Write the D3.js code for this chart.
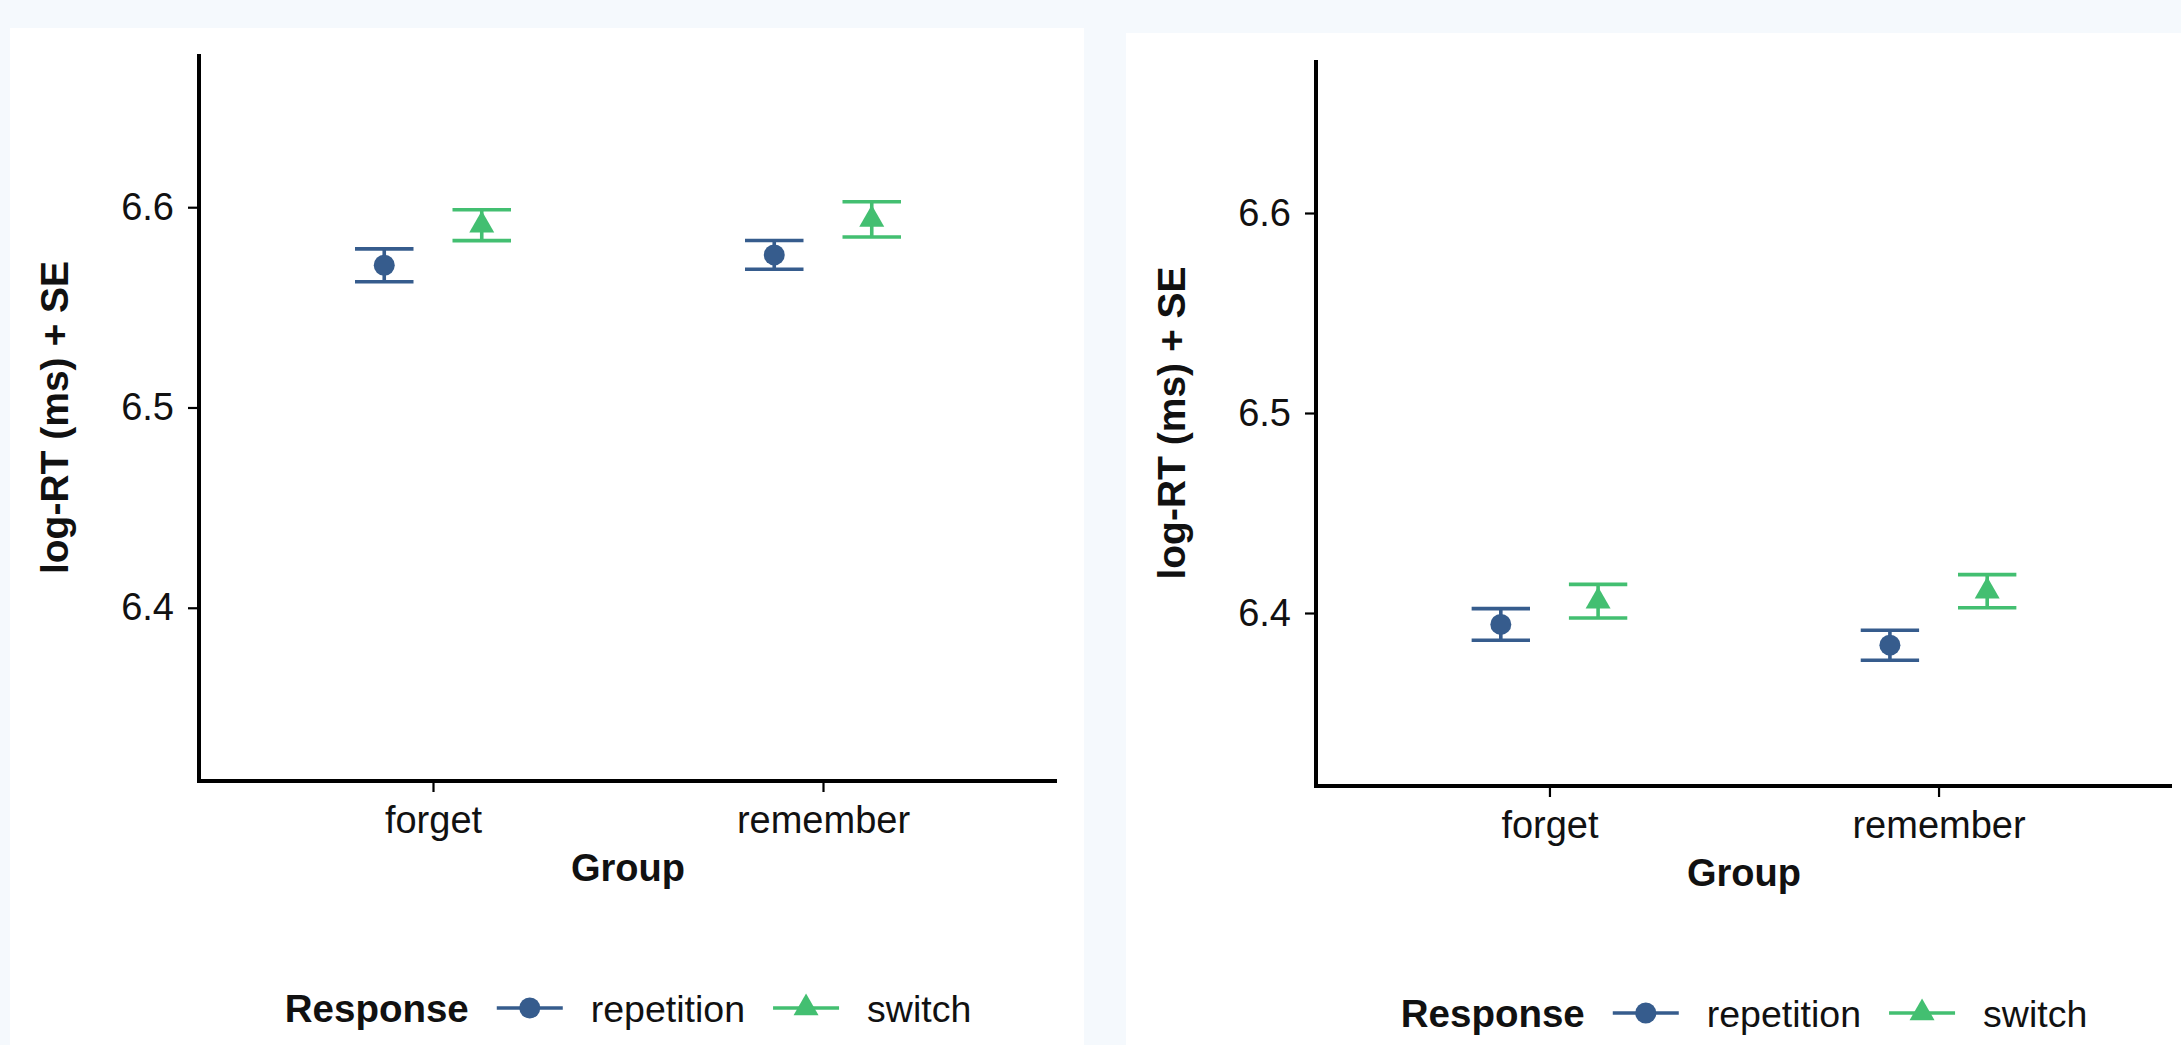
<!DOCTYPE html>
<html>
<head>
<meta charset="utf-8">
<script src="https://cdn.jsdelivr.net/npm/d3@7"></script>
<style>
  html, body { margin: 0; padding: 0; background: #f5f9fd; }
  svg { display: block; }
  text { font-family: "Liberation Sans", Arial, Helvetica, sans-serif; fill: #111; }
</style>
</head>
<body>
<svg id="chart" width="2181" height="1045"></svg>
<script>
// Groups on the x axis and response types (series)
const groups = ["forget", "remember"];
const responses = ["repetition", "switch"];
const yTicks = [6.4, 6.5, 6.6];
const yLimits = [6.33, 6.66];

// Panel 1: mean log-RT and standard error per group
const panel1Repetition = [6.5710, 6.5762];
const panel1RepetitionSE = [0.0082, 0.0072];
const panel1Switch = [6.5910, 6.5939];
const panel1SwitchSE = [0.0077, 0.0088];

// Panel 2: mean log-RT and standard error per group
const panel2Repetition = [6.3943, 6.3839];
const panel2RepetitionSE = [0.0079, 0.0075];
const panel2Switch = [6.4059, 6.4109];
const panel2SwitchSE = [0.0084, 0.0083];

const colors = { repetition: "#365c8d", switch: "#43bf71" };

function rows(rep, repSE, sw, swSE) {
  const out = [];
  groups.forEach((g, i) => {
    out.push({ group: g, response: "repetition", mean: rep[i], se: repSE[i] });
    out.push({ group: g, response: "switch", mean: sw[i], se: swSE[i] });
  });
  return out;
}

const panels = [
  { card: [10, 28, 1074, 1017], plot: { x0: 199, x1: 1057, y0: 54, y1: 781 },
    data: rows(panel1Repetition, panel1RepetitionSE, panel1Switch, panel1SwitchSE) },
  { card: [1126, 33, 1055, 1012], plot: { x0: 1316, x1: 2172, y0: 60, y1: 786 },
    data: rows(panel2Repetition, panel2RepetitionSE, panel2Switch, panel2SwitchSE) }
];

const svg = d3.select("#chart");

function symbolFor(r) {
  return r === "repetition"
    ? d3.symbol().type(d3.symbolCircle).size(Math.PI * 10.5 * 10.5)
    : d3.symbol().type(d3.symbolTriangle).size(270);
}

panels.forEach(p => {
  const [cx, cy, cw, ch] = p.card;
  svg.append("rect").attr("x", cx).attr("y", cy).attr("width", cw).attr("height", ch).attr("fill", "#ffffff");

  const { x0, x1, y0, y1 } = p.plot;
  const span = yLimits[1] - yLimits[0];
  const y = d3.scaleLinear()
    .domain([yLimits[0] - 0.05 * span, yLimits[1] + 0.05 * span])
    .range([y1, y0]);
  const x = d3.scalePoint().domain(groups).range([x0, x1]).padding(0.6);
  const step = x.step();
  const dodge = d3.scalePoint().domain(responses).range([-0.125 * step, 0.125 * step]);
  const capHalf = 0.075 * step;

  const g = svg.append("g");

  // Axes
  const yAxis = g.append("g").attr("transform", `translate(${x0},0)`)
    .call(d3.axisLeft(y).tickValues(yTicks).tickFormat(d3.format(".1f")).tickSize(11).tickSizeOuter(0).tickPadding(14));
  const xAxis = g.append("g").attr("transform", `translate(0,${y1})`)
    .call(d3.axisBottom(x).tickSize(11).tickSizeOuter(0).tickPadding(14));
  [yAxis, xAxis].forEach(a => {
    a.select(".domain").attr("stroke", "#000").attr("stroke-width", 4);
    a.selectAll(".tick line").attr("stroke", "#000").attr("stroke-width", 2.2);
    a.selectAll(".tick text").attr("font-size", 38).attr("fill", "#111")
      .style("font-family", '"Liberation Sans", Arial, sans-serif');
  });
  xAxis.select(".domain").attr("d", `M${x0 - 2},0H${x1}`);
  yAxis.select(".domain").attr("d", `M0,${y0}V${y1 + 2}`);

  // Axis titles
  g.append("text")
    .attr("x", (x0 + x1) / 2).attr("y", y1 + 100)
    .attr("text-anchor", "middle").attr("font-size", 38).attr("font-weight", "bold")
    .text("Group");
  g.append("text")
    .attr("transform", `translate(${x0 - 131},${(y0 + y1) / 2}) rotate(-90)`)
    .attr("text-anchor", "middle").attr("font-size", 39).attr("font-weight", "bold")
    .text("log-RT (ms) + SE");

  // Error bars
  const eb = g.append("g").selectAll("g").data(p.data).join("g")
    .attr("stroke", d => colors[d.response]).attr("stroke-width", 3.6).attr("fill", "none");
  const px = d => x(d.group) + dodge(d.response);
  eb.append("line")
    .attr("x1", px).attr("x2", px)
    .attr("y1", d => y(d.mean + d.se)).attr("y2", d => y(d.mean - d.se));
  eb.append("line")
    .attr("x1", d => px(d) - capHalf).attr("x2", d => px(d) + capHalf)
    .attr("y1", d => y(d.mean + d.se)).attr("y2", d => y(d.mean + d.se));
  eb.append("line")
    .attr("x1", d => px(d) - capHalf).attr("x2", d => px(d) + capHalf)
    .attr("y1", d => y(d.mean - d.se)).attr("y2", d => y(d.mean - d.se));

  // Points
  g.append("g").selectAll("path").data(p.data).join("path")
    .attr("transform", d => `translate(${px(d)},${y(d.mean)})`)
    .attr("d", d => symbolFor(d.response)())
    .attr("fill", d => colors[d.response]);

  // Legend
  const leg = g.append("g");
  const baseY = y1 + 241;
  const items = [];
  const title = leg.append("text").attr("y", baseY).attr("font-size", 38.5).attr("font-weight", "bold").text("Response");
  items.push({ node: title, w: title.node().getComputedTextLength() });
  responses.forEach(r => {
    const key = leg.append("g");
    key.append("line").attr("x1", 0).attr("x2", 66).attr("y1", 0).attr("y2", 0)
      .attr("stroke", colors[r]).attr("stroke-width", 3.6);
    key.append("path").attr("transform", "translate(33,0)")
      .attr("d", symbolFor(r)()).attr("fill", colors[r]);
    items.push({ key, w: 66 });
    const t = leg.append("text").attr("y", baseY).attr("font-size", 37.5).text(r);
    items.push({ node: t, w: t.node().getComputedTextLength() });
  });
  const gap = 28;
  const total = d3.sum(items, d => d.w) + gap * (items.length - 1);
  let cur = (x0 + x1) / 2 - total / 2;
  items.forEach(it => {
    if (it.key) it.key.attr("transform", `translate(${cur},${baseY - 14})`);
    else it.node.attr("x", cur);
    cur += it.w + gap;
  });
});
</script>
</body>
</html>
